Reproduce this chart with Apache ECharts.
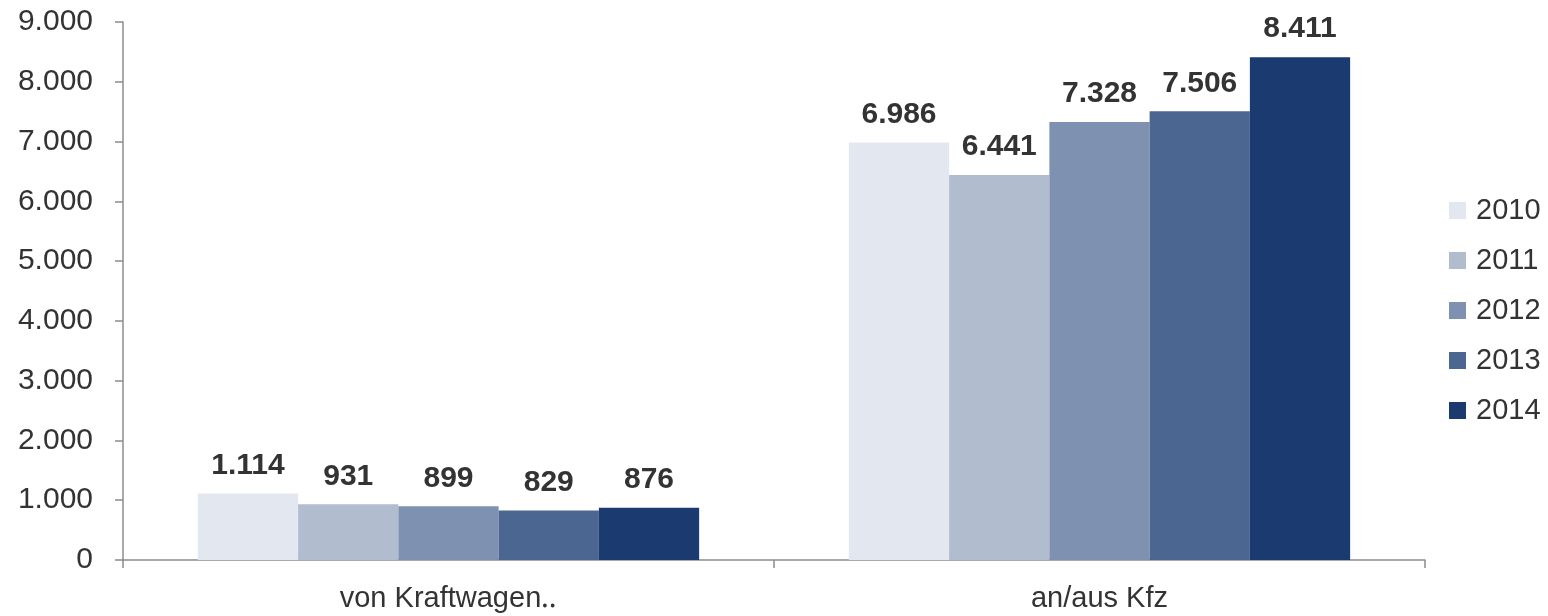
<!DOCTYPE html>
<html>
<head>
<meta charset="utf-8">
<script src="https://cdn.jsdelivr.net/npm/echarts@6/dist/echarts.min.js"></script>
<style>
html,body{margin:0;padding:0;background:#fff;}
#chart{width:1548px;height:616px;}
</style>
</head>
<body>
<div id="chart"></div>
<script>
const categories = ['von Kraftwagen\u2025', 'an/aus Kfz'];
const years = ['2010', '2011', '2012', '2013', '2014'];
const values2010 = [1114, 6986];
const values2011 = [931, 6441];
const values2012 = [899, 7328];
const values2013 = [829, 7506];
const values2014 = [876, 8411];
const yTicks = [0, 1000, 2000, 3000, 4000, 5000, 6000, 7000, 8000, 9000];

const seriesValues = [values2010, values2011, values2012, values2013, values2014];
const colors = ['#E3E7EF', '#B1BCCF', '#7F91B0', '#4B6690', '#1A3A70'];

function fmt(v) {
  return String(Math.round(v)).replace(/\B(?=(\d{3})+(?!\d))/g, '.');
}

const FONT = 'Liberation Sans, Arial, sans-serif';
const chart = echarts.init(document.getElementById('chart'));
chart.setOption({
  animation: false,
  backgroundColor: '#fff',
  color: colors,
  textStyle: { fontFamily: FONT },
  grid: { left: 123, right: 123, top: 22, bottom: 56, containLabel: false },
  legend: {
    orient: 'vertical',
    left: 1444,
    top: 191,
    itemWidth: 17,
    itemHeight: 17,
    itemGap: 21,
    icon: 'rect',
    data: years,
    textStyle: { fontSize: 29, color: '#333', fontFamily: FONT, padding: [0, 0, 0, 5] }
  },
  xAxis: {
    type: 'category',
    data: categories,
    axisLine: { lineStyle: { color: '#8c8c8c', width: 1.5 } },
    axisTick: { show: true, length: 8, lineStyle: { color: '#8c8c8c', width: 1.5 } },
    axisLabel: { fontSize: 29, color: '#333', margin: 24, fontFamily: FONT }
  },
  yAxis: {
    type: 'value',
    min: yTicks[0],
    max: yTicks[yTicks.length - 1],
    interval: 1000,
    axisLine: { show: true, lineStyle: { color: '#8c8c8c', width: 1.5 } },
    axisTick: { show: true, length: 8, lineStyle: { color: '#8c8c8c', width: 1.5 } },
    splitLine: { show: false },
    axisLabel: { fontSize: 30, color: '#333', margin: 30, fontFamily: FONT, formatter: fmt }
  },
  series: years.map((y, i) => ({
    name: y,
    type: 'bar',
    data: seriesValues[i],
    barGap: '0%',
    barCategoryGap: '23%',
    itemStyle: { color: colors[i] },
    label: {
      show: true,
      position: 'top',
      distance: 13,
      fontSize: 30,
      fontWeight: 'bold',
      color: '#333',
      fontFamily: FONT,
      formatter: p => fmt(p.value)
    }
  }))
});
</script>
</body>
</html>
